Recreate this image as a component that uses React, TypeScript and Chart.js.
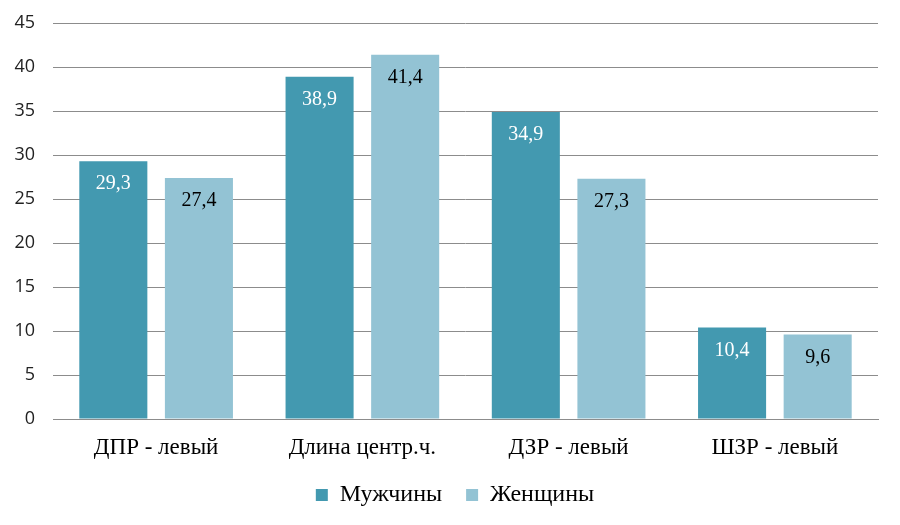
import { useEffect, useRef } from "react";
import { Chart, registerables, type Plugin } from "chart.js";

Chart.register(...registerables);

const categories = ["ДПР - левый", "Длина центр.ч.", "ДЗР - левый", "ШЗР - левый"];
const menValues = [29.3, 38.9, 34.9, 10.4];
const womenValues = [27.4, 41.4, 27.3, 9.6];
const seriesNames = ["Мужчины", "Женщины"];

const DARK = "#4399b0";
const LIGHT = "#93c3d4";
const SERIF = "'Liberation Serif', 'Times New Roman', serif";

/** Writes each bar's value just inside its top edge, with a comma as the decimal mark. */
const valueLabels: Plugin<"bar"> = {
  id: "valueLabels",
  afterDatasetsDraw(chart) {
    const { ctx } = chart;
    ctx.save();
    ctx.font = `20px ${SERIF}`;
    ctx.textAlign = "center";
    ctx.textBaseline = "middle";
    chart.data.datasets.forEach((dataset, di) => {
      const meta = chart.getDatasetMeta(di);
      ctx.fillStyle = di === 0 ? "#ffffff" : "#000000";
      meta.data.forEach((bar, i) => {
        const value = dataset.data[i] as number;
        ctx.fillText(value.toFixed(1).replace(".", ","), bar.x, bar.y + 23);
      });
    });
    ctx.restore();
  }
};

export default function App() {
  const canvasRef = useRef<HTMLCanvasElement>(null);

  useEffect(() => {
    document.body.style.margin = "0";
    const canvas = canvasRef.current;
    if (!canvas) return;

    const chart = new Chart(canvas, {
      type: "bar",
      data: {
        labels: categories,
        datasets: [
          { label: seriesNames[0], data: menValues, backgroundColor: DARK },
          { label: seriesNames[1], data: womenValues, backgroundColor: LIGHT }
        ]
      },
      options: {
        animation: false,
        responsive: true,
        maintainAspectRatio: false,
        datasets: { bar: { categoryPercentage: 0.83, barPercentage: 0.795 } },
        layout: { padding: { top: 23, right: 0, left: 10, bottom: 8 } },
        plugins: {
          tooltip: { enabled: false },
          legend: {
            position: "bottom",
            labels: {
              font: { family: SERIF, size: 24 },
              color: "#000",
              boxWidth: 12,
              boxHeight: 12,
              padding: 24
            }
          }
        },
        scales: {
          x: {
            grid: { display: false },
            border: { color: "#8c8c8c" },
            ticks: { font: { family: SERIF, size: 23 }, color: "#000", padding: 7 },
            afterFit: (scale) => {
              scale.height = 40;
            }
          },
          y: {
            min: 0,
            max: 45,
            ticks: { stepSize: 5, font: { family: "'Open Sans', sans-serif", size: 18 }, color: "#222", padding: 18 },
            grid: { color: "#8c8c8c", drawTicks: false },
            border: { display: false },
            afterFit: (scale) => {
              scale.width = 43;
              scale.paddingTop = 0;
              scale.paddingBottom = 0;
            }
          },
          // empty right-hand strip so the plot ends short of the edge while the legend stays centred on the page
          spacer: {
            type: "linear",
            position: "right",
            grid: { display: false },
            border: { display: false },
            ticks: { display: false },
            afterFit: (scale) => {
              scale.width = 22;
            }
          }
        }
      },
      plugins: [valueLabels]
    });

    return () => chart.destroy();
  }, []);

  return (
    <div style={{ width: 900, height: 525, background: "#fff" }}>
      <canvas ref={canvasRef} />
    </div>
  );
}
